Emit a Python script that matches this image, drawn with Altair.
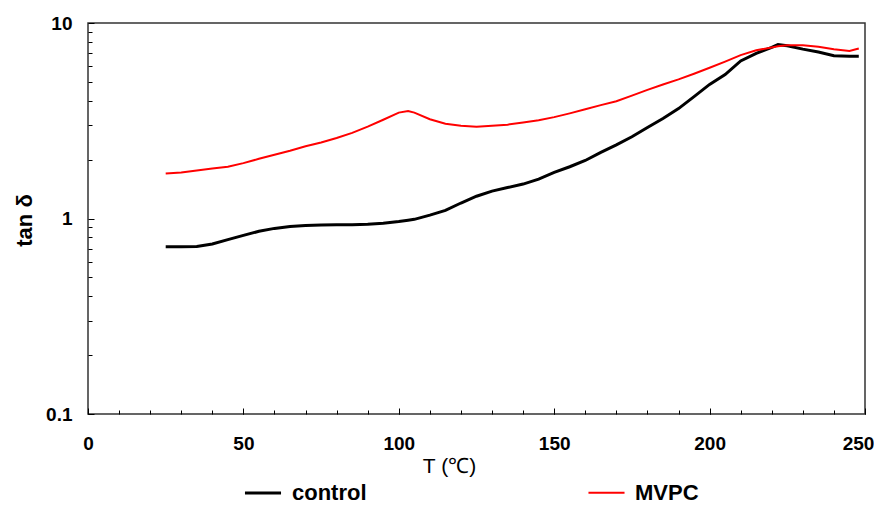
import altair as alt
import pandas as pd

# Temperature (°C) sample points
T = [25, 30, 35, 40, 45, 50, 55, 60, 65, 70, 75, 80, 85, 90, 95, 100, 103, 105,
     110, 115, 120, 125, 130, 135, 140, 145, 150, 155, 160, 165, 170, 175, 180,
     185, 190, 195, 200, 205, 210, 215, 220, 222, 225, 230, 235, 240, 245, 248]

control = [0.717, 0.717, 0.72, 0.74, 0.78, 0.82, 0.86, 0.89, 0.91, 0.92, 0.925,
           0.93, 0.93, 0.935, 0.945, 0.965, 0.98, 0.99, 1.04, 1.10, 1.20, 1.30,
           1.38, 1.44, 1.50, 1.59, 1.72, 1.84, 1.98, 2.18, 2.38, 2.62, 2.92,
           3.25, 3.65, 4.2, 4.85, 5.45, 6.4, 7.0, 7.5, 7.75, 7.65, 7.35, 7.1,
           6.8, 6.75, 6.75]

mvpc = [1.70, 1.72, 1.76, 1.80, 1.84, 1.92, 2.02, 2.12, 2.22, 2.34, 2.45, 2.58,
        2.74, 2.95, 3.2, 3.48, 3.55, 3.48, 3.22, 3.05, 2.98, 2.95, 2.98, 3.02,
        3.10, 3.18, 3.30, 3.45, 3.62, 3.80, 3.98, 4.25, 4.55, 4.85, 5.15, 5.5,
        5.9, 6.35, 6.85, 7.25, 7.5, 7.6, 7.7, 7.7, 7.55, 7.35, 7.2, 7.4]

series_names = ["control", "MVPC"]
series_colors = ["#000000", "#ff0000"]

x_labels = [0, 50, 100, 150, 200, 250]
x_minor = list(range(0, 251, 10))
y_labels = [0.1, 1, 10]
y_minor = [0.2, 0.3, 0.4, 0.5, 0.6, 0.7, 0.8, 0.9, 2, 3, 4, 5, 6, 7, 8, 9]

rows = []
for name, vals in zip(series_names, [control, mvpc]):
    for t, v in zip(T, vals):
        rows.append({"T": t, "tan": v, "series": name})
df = pd.DataFrame(rows)

FONT = "Liberation Sans"
W, H = 777, 391

xscale = alt.Scale(domain=[0, 250], nice=False, zero=False)
yscale = alt.Scale(type="log", domain=[0.1, 10], nice=False)

lines = alt.Chart(df).mark_line().encode(
    x=alt.X("T:Q", scale=xscale, axis=alt.Axis(
        values=x_labels, ticks=False, domain=False, grid=False, labelFlush=False,
        labelOffset={"condition": {"test": "datum.value >= 250", "value": -7}, "value": 0},
        labelFontSize=19, labelFontWeight="bold", labelFont=FONT,
        labelPadding=20, labelColor="#000",
        title="T (℃)", titleFont=FONT, titleFontSize=21, titleFontWeight="normal",
        titleX=361, titleY=52, titleAlign="center", titleBaseline="middle",
        titleColor="#000")),
    y=alt.Y("tan:Q", scale=yscale, axis=alt.Axis(
        values=y_labels, ticks=False, domain=False, grid=False, format="~g",
        labelFlush=False,
        labelFontSize=19, labelFontWeight="bold", labelFont=FONT,
        labelPadding=16, labelColor="#000",
        title="tan δ", titleFont=FONT, titleFontSize=22, titleFontWeight="bold",
        titleAngle=270, titleX=-64, titleY=197, titleAlign="center",
        titleBaseline="middle", titleColor="#000")),
    color=alt.Color("series:N", scale=alt.Scale(domain=series_names, range=series_colors),
                    sort=series_names,
                    legend=alt.Legend(
                        title=None, orient="none", direction="horizontal",
                        legendX=155, legendY=450,
                        symbolType="stroke", symbolSize=1300, symbolStrokeWidth=2,
                        labelFont=FONT, labelFontSize=22, labelFontWeight="bold",
                        labelColor="#000", labelOffset=9, columnPadding=217)),
    strokeWidth=alt.StrokeWidth("series:N", scale=alt.Scale(domain=series_names, range=[3, 2]),
                                legend=None),
    order=alt.Order("T:Q"),
)

minor_ticks = alt.Chart(df).mark_point(opacity=0, size=1).encode(
    x=alt.X("T:Q", scale=xscale, axis=alt.Axis(
        orient="top", offset=-H, values=x_minor, labels=False, domain=False,
        grid=False, tickSize=4, tickColor="#000", tickWidth=1, title=None)),
    y=alt.Y("tan:Q", scale=yscale, axis=alt.Axis(
        orient="right", offset=-W, values=y_minor, labels=False, domain=False,
        grid=False, tickSize=4, tickColor="#000", tickWidth=1, title=None)),
)

major_ticks = alt.Chart(df).mark_point(opacity=0, size=1).encode(
    x=alt.X("T:Q", scale=xscale, axis=alt.Axis(
        orient="top", offset=-H, values=x_labels, labels=False, domain=False,
        grid=False, tickSize=6, tickColor="#000", tickWidth=1, title=None)),
    y=alt.Y("tan:Q", scale=yscale, axis=alt.Axis(
        orient="right", offset=-W, values=y_labels, labels=False, domain=False,
        grid=False, tickSize=6, tickColor="#000", tickWidth=1, title=None)),
)

chart = alt.layer(lines, minor_ticks, major_ticks).resolve_scale(
    x="shared", y="shared"
).resolve_axis(
    x="independent", y="independent"
).properties(
    width=W, height=H,
    autosize=alt.AutoSizeParams(type="none"),
    padding={"left": 80, "top": 15, "right": 9, "bottom": 92},
    background="#ffffff",
).configure_view(
    stroke="#333333", strokeWidth=1.5
)

chart.save("out.html", embed_options={"renderer": "svg", "actions": False})
